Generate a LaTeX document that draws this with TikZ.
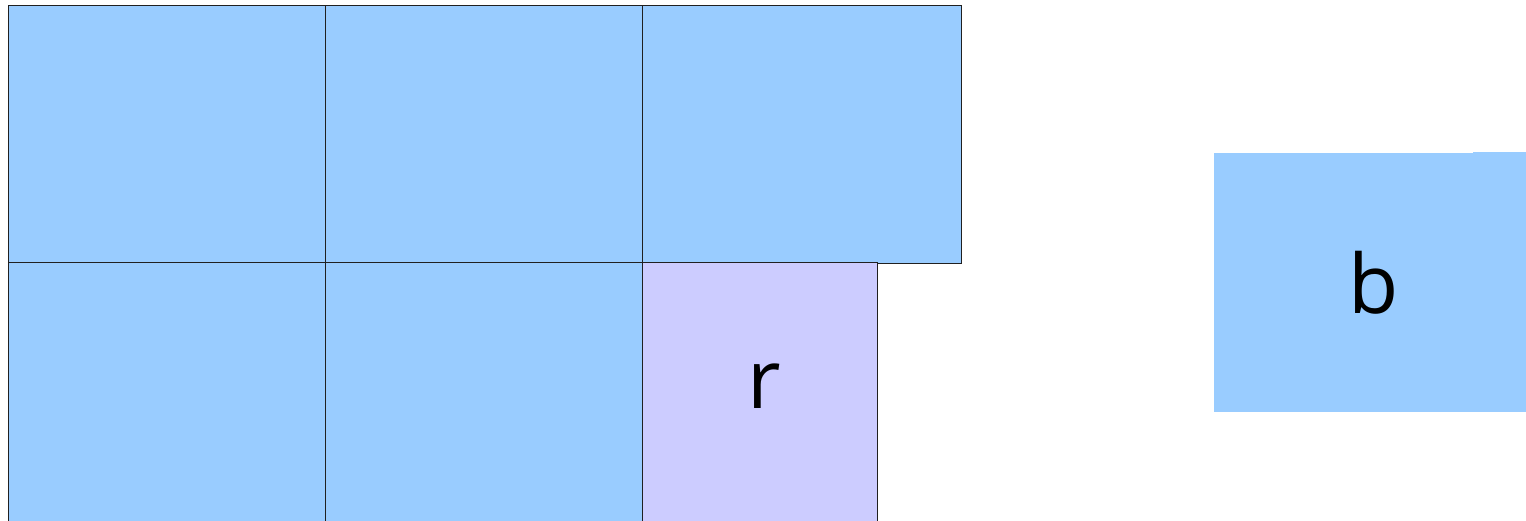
\documentclass[tikz,border=0pt]{standalone}
\usepackage{fontspec}
\setmainfont{Open Sans}
\definecolor{cellblue}{HTML}{99CCFF}
\definecolor{cellpurple}{HTML}{CCCCFF}
\definecolor{edge}{HTML}{202020}
\begin{document}
\begin{tikzpicture}[x=1pt,y=-1pt,
  cell/.style={draw=edge,line width=1pt,fill=cellblue,anchor=north west,inner sep=0pt,outer sep=0pt},
  bigtext/.style={font=\fontsize{82}{86}\selectfont}]
\useasboundingbox (0,0) rectangle (1526,520);
\clip (0,0) rectangle (1526,520);
\node[cell,minimum width=317pt,minimum height=257pt] (c11) at (8,5) {};
\node[cell,minimum width=317pt,minimum height=257pt] (c12) at (325,5) {};
\node[cell,minimum width=319pt,minimum height=258pt] (c13) at (642,5) {};
\node[cell,minimum width=317pt,minimum height=262pt] (c21) at (8,262) {};
\node[cell,minimum width=317pt,minimum height=262pt] (c22) at (325,262) {};
\node[cell,fill=cellpurple,minimum width=235pt,minimum height=262pt,text depth=14pt,bigtext] (r) at (642,262) {\kern10pt r};
\fill[cellblue] (1473,152) rectangle (1526,154);
\node[cell,draw=none,minimum width=312pt,minimum height=259pt,bigtext] (b) at (1214,153) {\kern8pt b};
\end{tikzpicture}
\end{document}
